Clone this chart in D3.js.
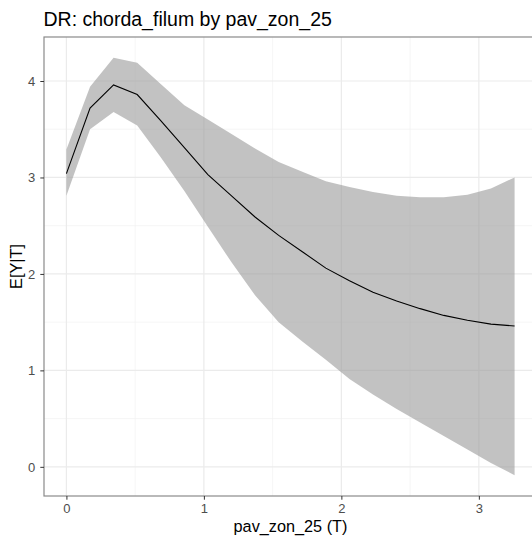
<!DOCTYPE html>
<html>
<head>
<meta charset="utf-8">
<script src="https://cdn.jsdelivr.net/npm/d3@7"></script>
<style>
    body { margin: 0; background: #fff; }
    text { font-family: "Liberation Sans", Arial, sans-serif; }
    .tick text { fill: #4d4d4d; font-size: 13px; }
    .tick line { stroke: #333; }
    .domain { display: none; }
</style>
</head>
<body>
<div id="chart"></div>
<script>
// Datos (curva dosis-respuesta y su banda)
const xValues = [0, 0.172, 0.343, 0.515, 0.686, 0.858, 1.029, 1.201, 1.372, 1.544,
    1.716, 1.887, 2.059, 2.230, 2.402, 2.573, 2.745, 2.917, 3.088, 3.260]
const meanValues = [3.04, 3.72, 3.96, 3.86, 3.59, 3.31, 3.03, 2.81, 2.59, 2.40,
    2.23, 2.06, 1.93, 1.81, 1.72, 1.64, 1.57, 1.52, 1.48, 1.46]
const upperValues = [3.29, 3.94, 4.24, 4.19, 3.97, 3.75, 3.60, 3.45, 3.30, 3.16,
    3.06, 2.96, 2.90, 2.85, 2.81, 2.795, 2.795, 2.82, 2.885, 3.00]
const lowerValues = [2.81, 3.50, 3.68, 3.54, 3.21, 2.86, 2.49, 2.12, 1.78, 1.50,
    1.30, 1.11, 0.91, 0.75, 0.60, 0.46, 0.32, 0.18, 0.04, -0.086]
const xTicks = [0, 1, 2, 3]
const xMinor = [0.5, 1.5, 2.5]
const yTicks = [0, 1, 2, 3, 4]
const yMinor = [0.5, 1.5, 2.5, 3.5]

const width = 532
const height = 540

// El panel se sale un poco por la derecha, como en el original
const panel = { left: 44, right: 537, top: 37, bottom: 496 }

const data = xValues.map((x, i) => ({ x: x, mean: meanValues[i], upper: upperValues[i], lower: lowerValues[i] }))

const svg = d3.select("#chart")
    .append("svg")
    .attr("width", width)
    .attr("height", height)

// Escalas con la expansión del 5% de ggplot
const xPad = (d3.max(xValues) - d3.min(xValues)) * 0.05
const yMin = d3.min(lowerValues), yMax = d3.max(upperValues)
const yPad = (yMax - yMin) * 0.05
const x = d3.scaleLinear().domain([d3.min(xValues) - xPad, d3.max(xValues) + xPad]).range([panel.left, panel.right])
const y = d3.scaleLinear().domain([yMin - yPad, yMax + yPad]).range([panel.bottom, panel.top])

// Rejilla
const grid = svg.append("g").attr("class", "grid")
grid.selectAll(".xminor").data(xMinor).enter().append("line")
    .attr("x1", d => x(d)).attr("x2", d => x(d))
    .attr("y1", panel.top).attr("y2", panel.bottom)
    .attr("stroke", "#f0f0f0").attr("stroke-width", 0.7)
grid.selectAll(".yminor").data(yMinor).enter().append("line")
    .attr("x1", panel.left).attr("x2", panel.right)
    .attr("y1", d => y(d)).attr("y2", d => y(d))
    .attr("stroke", "#f0f0f0").attr("stroke-width", 0.7)
grid.selectAll(".xmajor").data(xTicks).enter().append("line")
    .attr("x1", d => x(d)).attr("x2", d => x(d))
    .attr("y1", panel.top).attr("y2", panel.bottom)
    .attr("stroke", "#ebebeb").attr("stroke-width", 1.2)
grid.selectAll(".ymajor").data(yTicks).enter().append("line")
    .attr("x1", panel.left).attr("x2", panel.right)
    .attr("y1", d => y(d)).attr("y2", d => y(d))
    .attr("stroke", "#ebebeb").attr("stroke-width", 1.2)

// Banda de confianza
svg.append("path")
    .datum(data)
    .attr("fill", "#999999")
    .attr("fill-opacity", 0.6)
    .attr("d", d3.area()
        .x(d => x(d.x))
        .y0(d => y(d.lower))
        .y1(d => y(d.upper)))

// Curva media
svg.append("path")
    .datum(data)
    .attr("fill", "none")
    .attr("stroke", "#000")
    .attr("stroke-width", 1.1)
    .attr("d", d3.line()
        .x(d => x(d.x))
        .y(d => y(d.mean)))

// Borde del panel
svg.append("rect")
    .attr("x", panel.left).attr("y", panel.top)
    .attr("width", panel.right - panel.left).attr("height", panel.bottom - panel.top)
    .attr("fill", "none")
    .attr("stroke", "#8a8a8a")
    .attr("stroke-width", 1.2)

// Ejes
const xAxis = d3.axisBottom(x).tickValues(xTicks).tickFormat(d3.format("d")).tickSize(3.7).tickPadding(4.5)
const yAxis = d3.axisLeft(y).tickValues(yTicks).tickFormat(d3.format("d")).tickSize(3.7).tickPadding(5)
svg.append("g").attr("transform", `translate(0, ${panel.bottom})`).call(xAxis)
svg.append("g").attr("transform", `translate(${panel.left}, 0)`).call(yAxis)

// Títulos
svg.append("text")
    .attr("x", 43.5).attr("y", 25.5)
    .attr("font-size", "19.5px")
    .attr("fill", "#000")
    .text("DR: chorda_filum by pav_zon_25")

svg.append("text")
    .attr("x", (panel.left + panel.right) / 2).attr("y", 532)
    .attr("text-anchor", "middle")
    .attr("font-size", "16.25px")
    .text("pav_zon_25 (T)")

svg.append("text")
    .attr("transform", `translate(21.5, ${(panel.top + panel.bottom) / 2}) rotate(-90)`)
    .attr("text-anchor", "middle")
    .attr("font-size", "16.25px")
    .text("E[Y|T]")
</script>
</body>
</html>
